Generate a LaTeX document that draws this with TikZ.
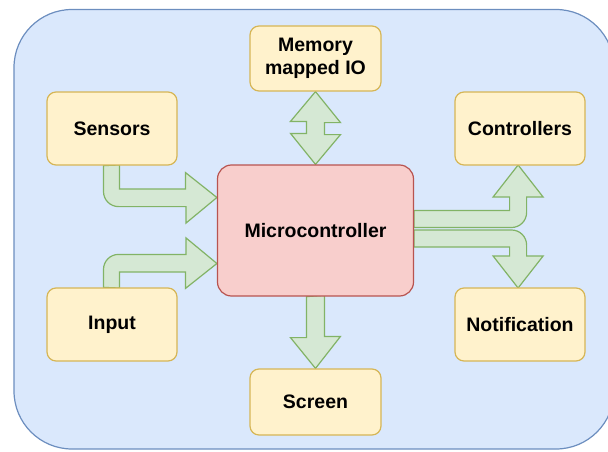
\documentclass[tikz,border=0pt]{standalone}
\usepackage{fontspec}
\newfontfamily\dfont{Liberation Sans}
\usepackage{tikz}
\usetikzlibrary{positioning,calc,backgrounds}
\definecolor{ink}     {HTML}{000000}
\definecolor{sky}     {HTML}{DAE8FC}
\definecolor{skyline} {HTML}{6C8EBF}
\definecolor{butter}  {HTML}{FFF2CC}
\definecolor{butterln}{HTML}{D6B656}
\definecolor{rose}    {HTML}{F8CECC}
\definecolor{roseln}  {HTML}{B85450}
\definecolor{leaf}    {HTML}{D5E8D4}
\definecolor{leafln}  {HTML}{82B366}
\tikzset{
  every node/.style={font=\dfont\bfseries\fontsize{19.5}{23}\selectfont, text=ink},
  % --- nodes
  blk/.style   = {rounded corners=9pt, draw=butterln, fill=butter, align=center,
                  line width=1.2pt, minimum width=130pt, minimum height=73pt, inner sep=2pt},
  blkw/.style  = {blk, minimum width=131pt, minimum height=65pt},
  hub/.style   = {blk, rounded corners=14pt, draw=roseln, fill=rose,
                  minimum width=196pt, minimum height=131pt},
  % --- shapes
  panelbg/.style = {draw=skyline, fill=sky, line width=1.2pt, rounded corners=58pt},
  pipe/.style  = {draw=leafln, fill=leaf, line width=1.2pt, line join=miter},
}

\begin{document}
\begin{tikzpicture}[x=1pt,y=1pt]
  \useasboundingbox (0,0) rectangle (608,451);
  \begin{scope}[on background layer]
    \draw[panelbg] (14,2) rectangle (614,441.5);
  \end{scope}

  % boxes
  \node[blkw] (mem)    at (315.5,392.5) {Memory\\mapped IO};
  \node[blk]  (sensor) at (112,322.5)   {Sensors};
  \node[blk]  (ctrl)   at (520,322.5)   {Controllers};
  \node[hub]  (mcu)    at (315.5,220.5) {Microcontroller};
  \node[blk]  (inp)    at (112,126.5)   {Input};
  \node[blk]  (notif)  at (520,126.5)   {Notification};
  \node[blk, minimum width=131pt, minimum height=66pt] (scr) at (315.5,49) {Screen};

  % block arrows, kept under the boxes
  \begin{scope}[on background layer]
    % sensors -> mcu
    \draw[pipe] ($(sensor.south)+(-8.5,0)$) -- ++(0,-26)
      arc[start angle=180, end angle=270, radius=15pt] -- ++(67.5,0)
      -- ++(0,-16.5) -- ($(mcu.west)+(0,33)$) -- ++(-31.5,25) -- ++(0,-16.5)
      -- ++(-66,0) -- ++(0,24) -- cycle;
    % input -> mcu
    \draw[pipe] ($(inp.north)+(-8.5,0)$) -- ++(0,18)
      arc[start angle=180, end angle=90, radius=15pt] -- ++(67.5,0)
      -- ++(0,16.5) -- ($(mcu.west)+(0,-33)$) -- ++(-31.5,-25) -- ++(0,16.5)
      -- ++(-66,0) -- ++(0,-16) -- cycle;
    % mem <-> mcu
    \draw[pipe] (mem.south) -- ++(25,-31) -- ++(-16,0) -- ++(0,-12) -- ++(16,0)
      -- (mcu.north) -- ++(-25,31) -- ++(16,0) -- ++(0,12) -- ++(-16,0) -- cycle;
    % mcu -> screen
    \draw[pipe] ($(mcu.south)+(-9,0)$) -- ++(0,-41) -- ++(-16,0)
      -- (scr.north) -- ++(25,32) -- ++(-16,0) -- ++(0,41) -- cycle;
    % mcu -> controllers
    \draw[pipe] ($(mcu.east)+(0,20)$) -- ++(95.5,0) -- ++(0,13.5) -- ++(-16.5,0)
      -- ++(25,32) -- ++(25,-32) -- ++(-16.5,0) -- ++(0,-15.5)
      arc[start angle=0, end angle=-90, radius=15pt] -- ++(-97.5,0) -- cycle;
    % mcu -> notification
    \draw[pipe] ($(mcu.east)+(0,0.5)$) -- ++(97.5,0)
      arc[start angle=90, end angle=0, radius=15pt] -- ++(0,-11) -- ++(16.5,0)
      -- ++(-25,-32) -- ++(-25,32) -- ++(16.5,0) -- ++(0,9) -- ++(-95.5,0) -- cycle;
  \end{scope}
\end{tikzpicture}
\end{document}
